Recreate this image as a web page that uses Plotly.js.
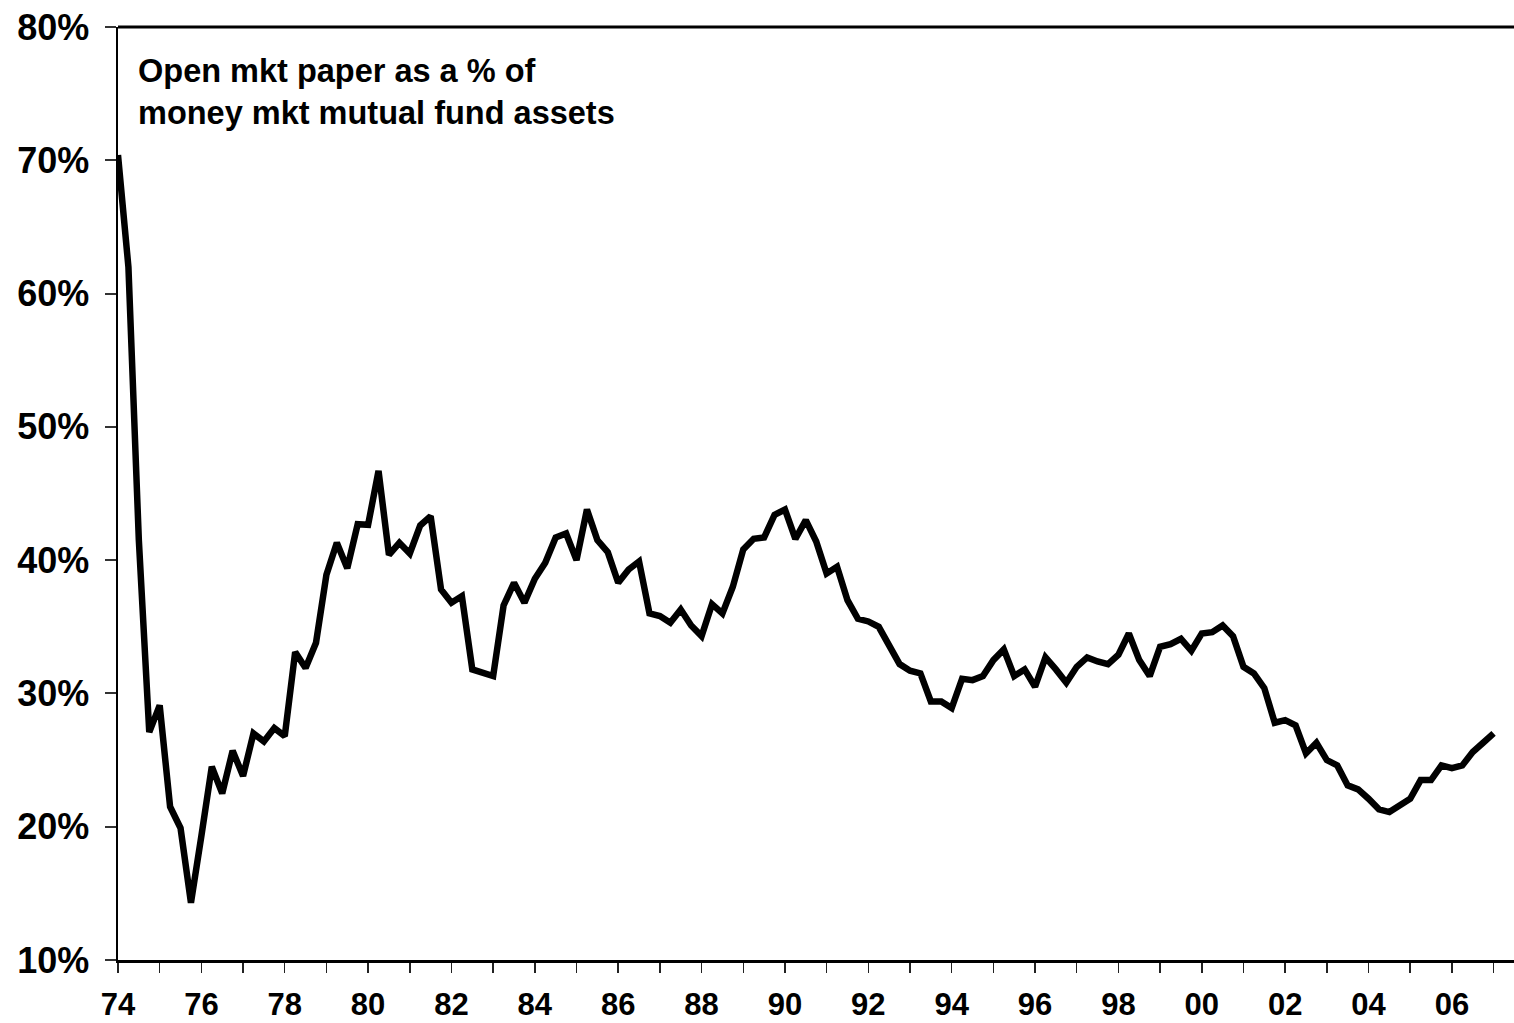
<!DOCTYPE html>
<html>
<head>
<meta charset="utf-8">
<script src="https://cdn.plot.ly/plotly-3.0.1.min.js"></script>
<style>
  html, body { margin: 0; padding: 0; background: #fff; overflow: hidden; }
  #chart { width: 1514px; height: 1023px; }
</style>
</head>
<body>
<div id="chart"></div>
<script>
// Quarterly series starting 1974 Q1
const startYear = 1974;
const periodsPerYear = 4;
const openMktPaperShare = [
  70.4, 62.0, 41.5, 27.1,
  29.1, 21.5, 19.9, 14.3,
  19.3, 24.5, 22.5, 25.7,
  23.8, 27.0, 26.4, 27.4,
  26.8, 33.1, 31.9, 33.8,
  38.9, 41.3, 39.4, 42.7,
  42.65, 46.7, 40.4, 41.3,
  40.5, 42.6, 43.3, 37.8,
  36.8, 37.3, 31.8, 31.5,
  31.3, 36.6, 38.3, 36.8,
  38.6, 39.8, 41.7, 42.0,
  40.0, 43.8, 41.5, 40.6,
  38.3, 39.3, 39.9, 36.0,
  35.8, 35.3, 36.3, 35.1,
  34.3, 36.7, 36.0, 38.0,
  40.8, 41.6, 41.7, 43.4,
  43.8, 41.6, 43.0, 41.4,
  39.0, 39.5, 37.0, 35.6,
  35.4, 35.0, 33.6, 32.2,
  31.7, 31.5, 29.4, 29.4,
  28.9, 31.1, 31.0, 31.3,
  32.5, 33.3, 31.3, 31.8,
  30.5, 32.7, 31.8, 30.8,
  32.0, 32.7, 32.4, 32.2,
  32.9, 34.5, 32.5, 31.3,
  33.5, 33.7, 34.1, 33.2,
  34.5, 34.6, 35.1, 34.3,
  32.0, 31.5, 30.4, 27.8,
  28.0, 27.6, 25.5, 26.3,
  25.0, 24.6, 23.1, 22.8,
  22.1, 21.3, 21.1, 21.6,
  22.1, 23.5, 23.5, 24.6,
  24.4, 24.6, 25.6, 26.3,
  27.0
];
const xTickLabels = ['74','76','78','80','82','84','86','88','90','92','94','96','98','00','02','04','06'];
const yTickValues = [10, 20, 30, 40, 50, 60, 70, 80];
const chartNote = 'Open mkt paper as a % of<br>money mkt mutual fund assets';

const xs = openMktPaperShare.map((_, i) => startYear + i / periodsPerYear);

// every year gets a tick, even years get a label
const tickVals = [];
const tickText = [];
for (let y = startYear; y <= 2007; y++) {
  tickVals.push(y);
  const k = (y - startYear) / 2;
  tickText.push(Number.isInteger(k) && k < xTickLabels.length ? xTickLabels[k] : '');
}

const font = { family: 'Liberation Sans, Arial, sans-serif', color: '#000' };

const trace = {
  x: xs,
  y: openMktPaperShare,
  type: 'scatter',
  mode: 'lines',
  line: { color: '#000', width: 6.5, shape: 'linear' },
  hoverinfo: 'x+y'
};

const layout = {
  width: 1514,
  height: 1023,
  margin: { l: 118, r: 0, t: 27, b: 63 },
  paper_bgcolor: '#fff',
  plot_bgcolor: '#fff',
  showlegend: false,
  font: font,
  xaxis: {
    range: [1974, 2007.49],
    tickmode: 'array',
    tickvals: tickVals,
    ticktext: tickText,
    ticks: 'outside',
    ticklen: 10,
    tickwidth: 1.5,
    tickcolor: '#222',
    showline: true,
    linecolor: '#000',
    linewidth: 2.5,
    showgrid: false,
    zeroline: false,
    ticklabelstandoff: 5,
    tickfont: { family: font.family, size: 31, color: '#000', weight: 700 }
  },
  yaxis: {
    range: [10, 80],
    tickmode: 'array',
    tickvals: yTickValues,
    ticktext: yTickValues.map(v => v + '%'),
    ticks: 'outside',
    ticklen: 11,
    tickwidth: 2,
    tickcolor: '#333',
    showline: true,
    linecolor: '#000',
    linewidth: 2.5,
    showgrid: false,
    zeroline: false,
    ticklabelstandoff: 8,
    tickfont: { family: font.family, size: 36, color: '#000', weight: 700 }
  },
  shapes: [{
    type: 'line', xref: 'paper', yref: 'paper',
    x0: 0, x1: 1, y0: 1, y1: 1,
    line: { color: '#000', width: 3 }
  }],
  annotations: [{
    xref: 'paper', yref: 'paper',
    x: 0.0129, y: 0.974,
    xanchor: 'left', yanchor: 'top',
    align: 'left',
    showarrow: false,
    text: chartNote,
    font: { family: font.family, size: 32.5, color: '#000', weight: 700 }
  }]
};

Plotly.newPlot('chart', [trace], layout, { displayModeBar: false, staticPlot: true });
</script>
</body>
</html>
